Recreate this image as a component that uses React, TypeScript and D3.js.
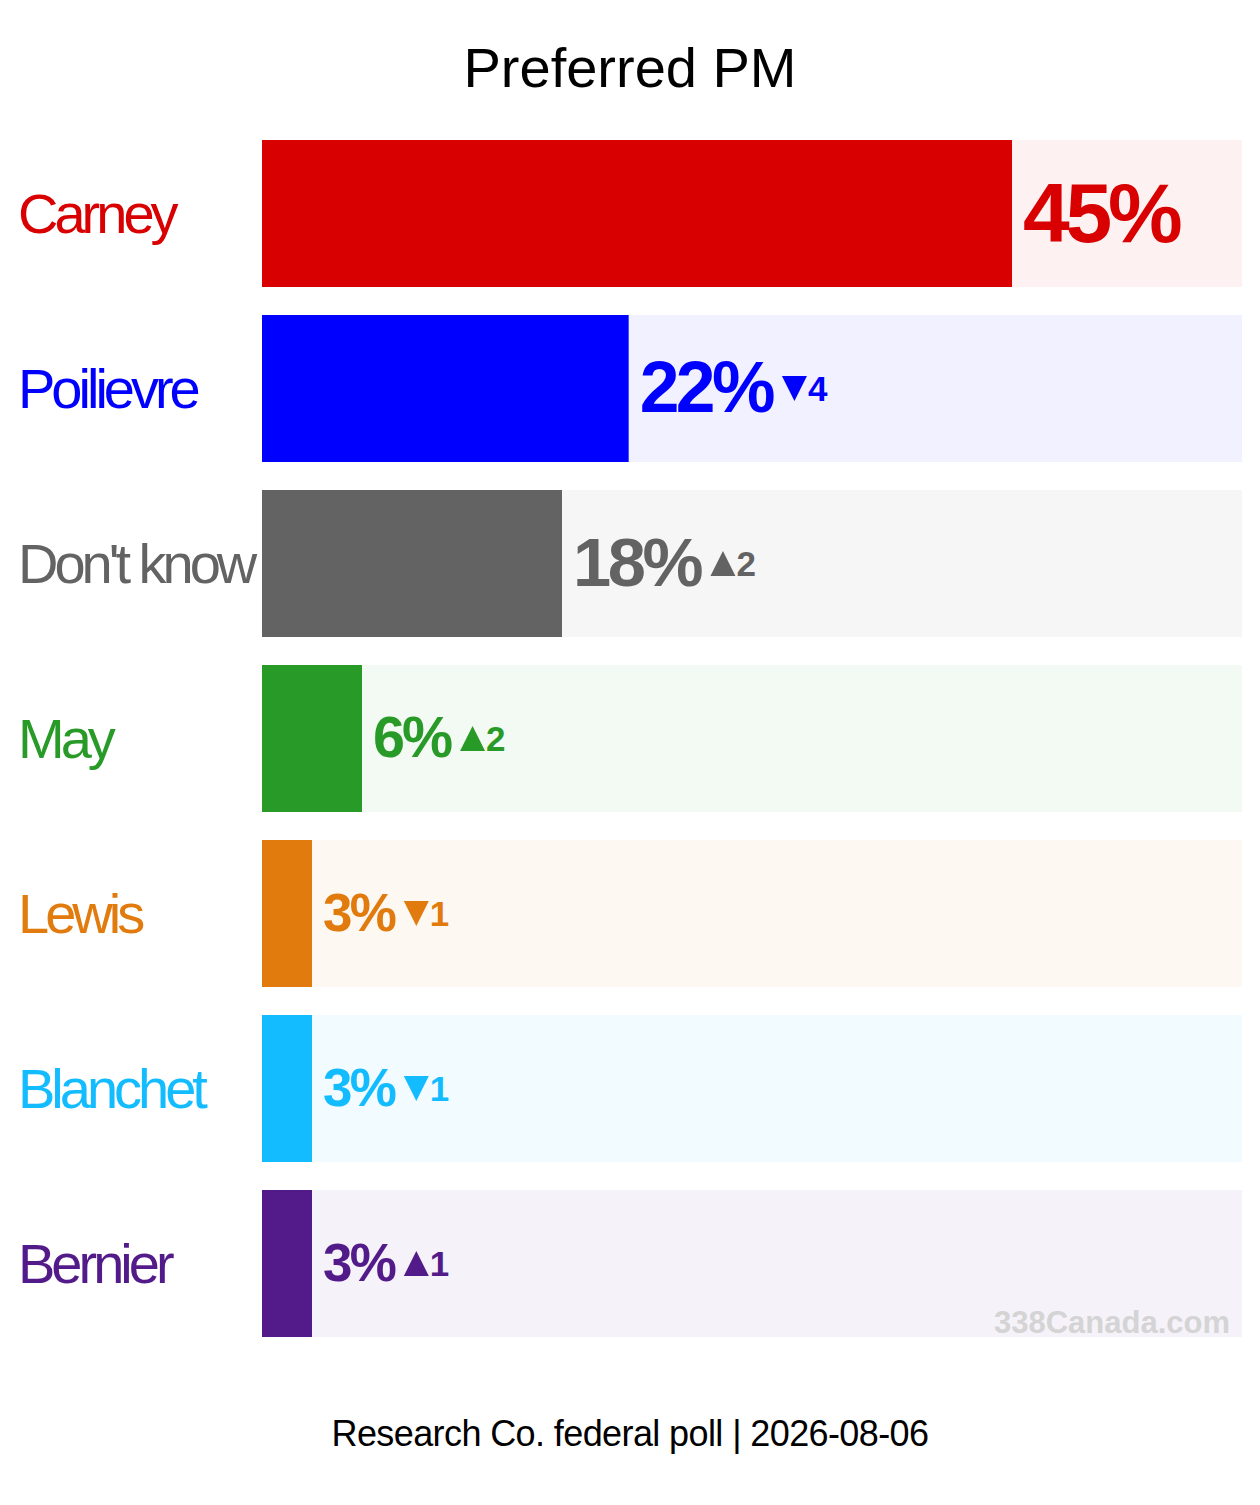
import React, { useEffect, useRef } from "react";
import * as d3 from "d3";

const title = "Preferred PM";
const footer = "Research Co. federal poll | 2026-08-06";
const watermark = "338Canada.com";
const categories = ["Carney", "Poilievre", "Don't know", "May", "Lewis", "Blanchet", "Bernier"];
const values = [45, 22, 18, 6, 3, 3, 3];
const changes = [0, -4, 2, 2, -1, -1, 1];
const colors = ["#d80000", "#0000ff", "#636363", "#289a28", "#e17b0e", "#13bcff", "#531b8a"];

const W = 1260;
const H = 1505;
const FONT = "'Liberation Sans', Arial, sans-serif";

export default function App() {
  const ref = useRef<SVGSVGElement>(null);
  useEffect(() => {
    document.body.style.margin = "0";
    const svg = d3.select(ref.current);
    svg.selectAll("*").remove();
    const x = d3.scaleLinear().domain([0, 58.8]).range([262, 1242]);
    const y = d3.scaleBand<string>().domain(categories).range([140, 1337]).paddingInner(0.16).paddingOuter(0);
    const fs = d3.scaleSqrt().domain([0, 45]).range([42.2, 84]);
    const data = categories.map((c, i) => ({ c, v: values[i], d: changes[i], col: colors[i] }));

    svg.append("rect").attr("width", W).attr("height", H).attr("fill", "#fff");

    svg.append("text").attr("x", W / 2).attr("y", 87).attr("text-anchor", "middle")
      .attr("font-family", FONT).attr("font-size", 56).attr("fill", "#000").text(title);

    const g = svg.append("g").selectAll("g").data(data).join("g");
    g.append("rect").attr("x", x(0)).attr("y", (d) => y(d.c)!).attr("width", x(58.8) - x(0))
      .attr("height", y.bandwidth()).attr("fill", (d) => d.col).attr("fill-opacity", 0.055);
    g.append("rect").attr("x", x(0)).attr("y", (d) => y(d.c)!).attr("width", (d) => x(d.v) - x(0))
      .attr("height", y.bandwidth()).attr("fill", (d) => d.col);
    g.append("text").attr("x", 18).attr("y", (d) => y(d.c)! + y.bandwidth() / 2 + 19)
      .attr("font-family", FONT).attr("font-size", 56).attr("letter-spacing", -4)
      .attr("fill", (d) => d.col).text((d) => d.c);
    const vt = g.append("text").attr("x", (d) => x(d.v) + 11)
      .attr("y", (d) => y(d.c)! + y.bandwidth() / 2 + 0.36 * fs(d.v) - 2)
      .attr("font-family", FONT).attr("font-weight", "bold").attr("font-size", (d) => fs(d.v))
      .attr("letter-spacing", (d) => -0.05 * fs(d.v))
      .attr("fill", (d) => d.col).text((d) => `${d.v}%`);
    vt.each(function (d: any) {
      if (!d.d) return;
      const node = this as SVGTextElement;
      const bb = node.getBBox();
      const cy = y(d.c)! + y.bandwidth() / 2;
      const parent = d3.select(node.parentNode as SVGGElement);
      const tx = bb.x + bb.width + 8;
      const tw = 25;
      const th = 25;
      const pts = d.d < 0
        ? [[tx, cy - th / 2], [tx + tw, cy - th / 2], [tx + tw / 2, cy + th / 2]]
        : [[tx + tw / 2, cy - th / 2], [tx + tw, cy + th / 2], [tx, cy + th / 2]];
      parent.append("path").attr("d", d3.line()(pts as [number, number][]) + "Z").attr("fill", d.col);
      parent.append("text").attr("x", tx + tw + 1).attr("y", cy + 12.5)
        .attr("font-family", FONT).attr("font-weight", "bold").attr("font-size", 35)
        .attr("fill", d.col).text(String(Math.abs(d.d)));
    });

    svg.append("text").attr("x", 1230).attr("y", 1333).attr("text-anchor", "end")
      .attr("font-family", FONT).attr("font-weight", "bold").attr("font-size", 31)
      .attr("fill", "#d4d4d4").text(watermark);

    svg.append("text").attr("x", W / 2).attr("y", 1446).attr("text-anchor", "middle")
      .attr("font-family", FONT).attr("font-size", 36).attr("letter-spacing", -0.6)
      .attr("fill", "#000").text(footer);
  }, []);
  return <svg ref={ref} width={W} height={H} style={{ display: "block" }} />;
}
